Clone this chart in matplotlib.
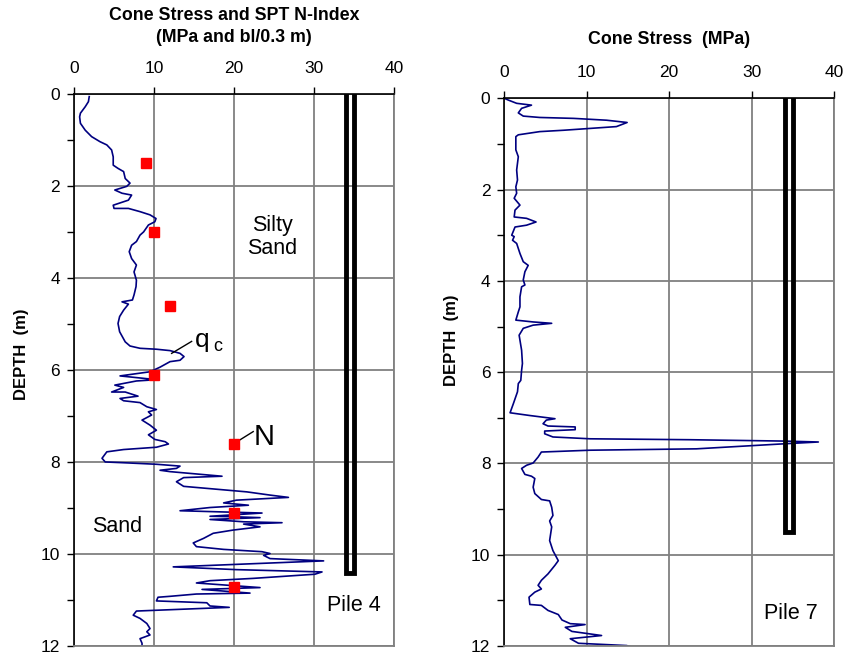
import numpy as np
import matplotlib.pyplot as plt
from matplotlib.ticker import MultipleLocator

plt.rcParams['font.family'] = ['Liberation Sans', 'DejaVu Sans']

# Pile 4 - cone stress qc (MPa) vs depth (m)
qc4 = [1.9, 1.8, 1.4, 0.8, 0.7, 0.8, 1.4, 2.2, 3.25, 4.1, 4.7, 4.9, 4.9, 5.5, 6.2, 6.4, 7.0, 6.6,
       5.1, 6.0, 7.2, 6.8, 4.9, 5.0, 6.8, 8.25, 9.5, 10.25, 10.1, 9.3, 8.7, 8.25, 7.8, 7.2, 6.9,
       7.2, 7.8, 7.5, 7.8, 7.75, 7.5, 7.3, 6.0, 6.8, 6.2, 5.7, 5.5, 5.7, 6.4, 7.0, 8.25, 10.3,
       12.0, 13.25, 13.75, 13.25, 12.0, 10.75, 9.5, 5.75, 9.1, 10.5, 7.8, 5.1, 6.2, 4.7, 6.4,
       8.0, 5.75, 6.2, 8.25, 9.1, 10.3, 9.3, 9.7, 8.5, 9.5, 10.3, 9.3, 10.1, 11.4, 11.8, 10.3,
       6.2, 4.1, 3.5, 3.9, 6.6, 10.3, 13.25, 12.8, 10.75, 12.0, 18.5, 13.7, 12.8, 13.7, 17.0,
       21.6, 24.5, 26.8, 20.3, 18.7, 21.8, 17.0, 13.25, 23.5, 17.0, 19.9, 23.25, 17.0, 21.2,
       26.0, 21.2, 23.25, 19.9, 17.4, 16.2, 14.9, 15.3, 18.7, 23.5, 24.5, 23.7, 24.5, 31.2,
       22.4, 12.4, 20.3, 31.0, 30.1, 22.4, 17.0, 15.3, 23.25, 16.0, 22.0, 15.3, 12.0, 10.5,
       10.3, 16.6, 17.0, 19.4, 12.0, 7.8, 7.4, 8.25, 9.1, 9.5, 9.1, 9.5, 8.25, 8.5, 8.5]
z4 = [0.05, 0.16, 0.27, 0.41, 0.49, 0.63, 0.78, 0.92, 1.03, 1.10, 1.21, 1.36, 1.54, 1.61, 1.68,
      1.83, 1.93, 2.0, 2.08, 2.15, 2.19, 2.30, 2.41, 2.48, 2.48, 2.55, 2.62, 2.70, 2.77, 2.84,
      2.99, 3.06, 3.20, 3.28, 3.42, 3.57, 3.71, 3.86, 4.04, 4.18, 4.36, 4.47, 4.51, 4.56, 4.69,
      4.83, 4.98, 5.16, 5.38, 5.47, 5.52, 5.54, 5.57, 5.63, 5.70, 5.78, 5.81, 5.93, 6.03, 6.12,
      6.18, 6.20, 6.23, 6.32, 6.37, 6.47, 6.47, 6.56, 6.61, 6.66, 6.70, 6.79, 6.85, 6.90, 6.97,
      7.08, 7.19, 7.30, 7.40, 7.50, 7.55, 7.60, 7.67, 7.72, 7.77, 7.91, 7.99, 8.01, 8.04, 8.08,
      8.13, 8.17, 8.20, 8.30, 8.33, 8.42, 8.52, 8.57, 8.64, 8.71, 8.76, 8.82, 8.88, 8.93, 8.98,
      9.05, 9.10, 9.17, 9.18, 9.20, 9.24, 9.29, 9.31, 9.34, 9.40, 9.47, 9.54, 9.65, 9.75, 9.83,
      9.89, 9.94, 9.98, 10.02, 10.09, 10.14, 10.20, 10.27, 10.33, 10.38, 10.43, 10.52, 10.57,
      10.62, 10.72, 10.76, 10.84, 10.86, 10.91, 10.93, 11.01, 11.05, 11.12, 11.15, 11.20, 11.23,
      11.32, 11.39, 11.50, 11.61, 11.68, 11.75, 11.83, 11.93, 12.08]

# SPT N-index (bl/0.3 m) vs depth (m)
spt_n = [9, 10, 12, 10, 20, 20, 20]
spt_z = [1.5, 3.0, 4.6, 6.1, 7.6, 9.1, 10.7]

# Pile 7 - cone stress qc (MPa) vs depth (m)
qc7 = [0.0, 0.5, 1.5, 3.3, 2.1, 1.7, 2.3, 4.3, 8.4, 12.4, 14.9, 13.6, 7.2, 4.3, 1.7, 1.4, 1.4,
       1.7, 1.5, 1.6, 1.4, 1.5, 1.2, 1.9, 1.3, 1.2, 2.7, 3.85, 2.7, 1.3, 0.9, 1.2, 1.0, 1.5,
       1.9, 2.3, 2.9, 2.5, 2.3, 2.5, 2.1, 1.9, 1.9, 1.7, 1.4, 3.5, 5.75, 3.5, 2.3, 1.8, 2.1,
       2.2, 2.1, 2.0, 1.7, 1.6, 1.1, 0.7, 3.1, 6.15, 5.1, 4.7, 5.3, 8.6, 8.6, 4.9, 4.9, 5.9,
       10.4, 22.5, 33.9, 38.1, 33.9, 23.3, 10.4, 4.5, 4.1, 3.5, 2.7, 2.1, 2.5, 3.3, 3.7, 3.5,
       3.7, 4.5, 5.5, 5.75, 5.9, 5.5, 5.75, 5.5, 5.9, 6.55, 6.15, 5.3, 4.5, 4.1, 4.5, 3.7, 3.0,
       3.1, 4.5, 5.3, 6.55, 7.0, 8.0, 9.8, 7.4, 8.2, 11.8, 8.0, 9.0, 14.85, 15.7]
z7 = [0.0, 0.04, 0.11, 0.15, 0.22, 0.32, 0.39, 0.42, 0.44, 0.48, 0.53, 0.62, 0.70, 0.73, 0.80,
      0.84, 1.13, 1.28, 1.57, 1.79, 1.94, 2.08, 2.19, 2.34, 2.45, 2.60, 2.63, 2.71, 2.78, 2.82,
      3.0, 3.03, 3.11, 3.18, 3.40, 3.58, 3.66, 3.80, 3.98, 4.09, 4.13, 4.35, 4.57, 4.68, 4.86,
      4.90, 4.93, 4.97, 5.04, 5.19, 5.52, 5.81, 5.96, 6.18, 6.25, 6.43, 6.69, 6.89, 6.95, 7.02,
      7.05, 7.13, 7.18, 7.20, 7.26, 7.29, 7.35, 7.42, 7.46, 7.48, 7.51, 7.53, 7.57, 7.68, 7.71,
      7.75, 7.86, 7.99, 8.04, 8.11, 8.24, 8.28, 8.33, 8.52, 8.66, 8.79, 8.82, 8.96, 9.14, 9.26,
      9.39, 9.69, 9.91, 10.13, 10.23, 10.42, 10.56, 10.67, 10.75, 10.82, 10.93, 11.09, 11.11,
      11.22, 11.31, 11.43, 11.51, 11.53, 11.59, 11.68, 11.77, 11.84, 11.94, 11.99, 12.04]

# pile outlines: x edges and toe depth
pile4_x = [34, 35]
pile4_toe = 10.4
pile7_x = [34, 35]
pile7_toe = 9.5

fig = plt.figure(figsize=(8.45, 6.54), dpi=100)
ax1 = fig.add_axes([0.0876, 0.0115, 0.3787, 0.8443])
ax2 = fig.add_axes([0.5968, 0.0122, 0.3902, 0.8375])


def style(ax):
    ax.set_xlim(0, 40)
    ax.set_ylim(12, 0)
    ax.xaxis.tick_top()
    ax.xaxis.set_major_locator(MultipleLocator(10))
    ax.yaxis.set_major_locator(MultipleLocator(2))
    ax.yaxis.set_minor_locator(MultipleLocator(1))
    ax.tick_params(axis='both', which='both', direction='out', length=5, width=1,
                   labelsize=12.5)
    ax.tick_params(axis='x', pad=8)
    ax.tick_params(axis='y', pad=5)
    ax.grid(True, which='major', color='#808080', linewidth=1.3)
    ax.set_axisbelow(True)
    for s in ['top', 'left']:
        ax.spines[s].set_color('black')
        ax.spines[s].set_linewidth(1.2)
    for s in ['right', 'bottom']:
        ax.spines[s].set_color('#808080')
        ax.spines[s].set_linewidth(1.3)


def pile(ax, xs, toe):
    ax.plot([xs[0], xs[0], xs[1], xs[1]], [0, toe, toe, 0], color='black',
            linewidth=3.5, solid_joinstyle='miter', zorder=3)


# Pile 4 panel
style(ax1)
ax1.plot(qc4, z4, color='#000080', linewidth=1.2, zorder=2)
ax1.plot(spt_n, spt_z, linestyle='none', marker='s', markersize=6.5, color='#ff0000', zorder=4)
pile(ax1, pile4_x, pile4_toe)
ax1.plot([12.2, 14.7], [5.63, 5.37], color='black', linewidth=1)
ax1.text(15.1, 5.49, 'q', fontsize=19, va='baseline', ha='left')
ax1.text(17.4, 5.58, 'c', fontsize=13, va='baseline', ha='left')
ax1.plot([20.0, 22.4], [7.59, 7.33], color='black', linewidth=1)
ax1.text(22.5, 7.62, 'N', fontsize=21, va='baseline', ha='left')
ax1.text(24.75, 3.1, 'Silty\nSand', fontsize=15.5, ha='center', va='center', linespacing=1.15)
ax1.text(5.4, 9.4, 'Sand', fontsize=15.5, ha='center', va='center')
ax1.text(35.0, 11.12, 'Pile 4', fontsize=15.5, ha='center', va='center')
fig.text(234 / 845, 1 - 15 / 654, 'Cone Stress and SPT N-Index', fontsize=12.8,
         fontweight='bold', ha='center', va='center')
fig.text(234 / 845, 1 - 38 / 654, '(MPa and bl/0.3 m)', fontsize=12.8,
         fontweight='bold', ha='center', va='center')
fig.text(22 / 845, 1 - 354 / 654, 'DEPTH  (m)', fontsize=12, fontweight='bold',
         rotation=90, ha='center', va='center')

# Pile 7 panel
style(ax2)
ax2.plot(qc7, z7, color='#000080', linewidth=1.2, zorder=2)
pile(ax2, pile7_x, pile7_toe)
ax2.text(34.8, 11.28, 'Pile 7', fontsize=15.5, ha='center', va='center')
fig.text(669 / 845, 1 - 39 / 654, 'Cone Stress  (MPa)', fontsize=12.8,
         fontweight='bold', ha='center', va='center')
fig.text(452 / 845, 1 - 340 / 654, 'DEPTH  (m)', fontsize=12, fontweight='bold',
         rotation=90, ha='center', va='center')

fig.savefig('out.png', dpi=100)
